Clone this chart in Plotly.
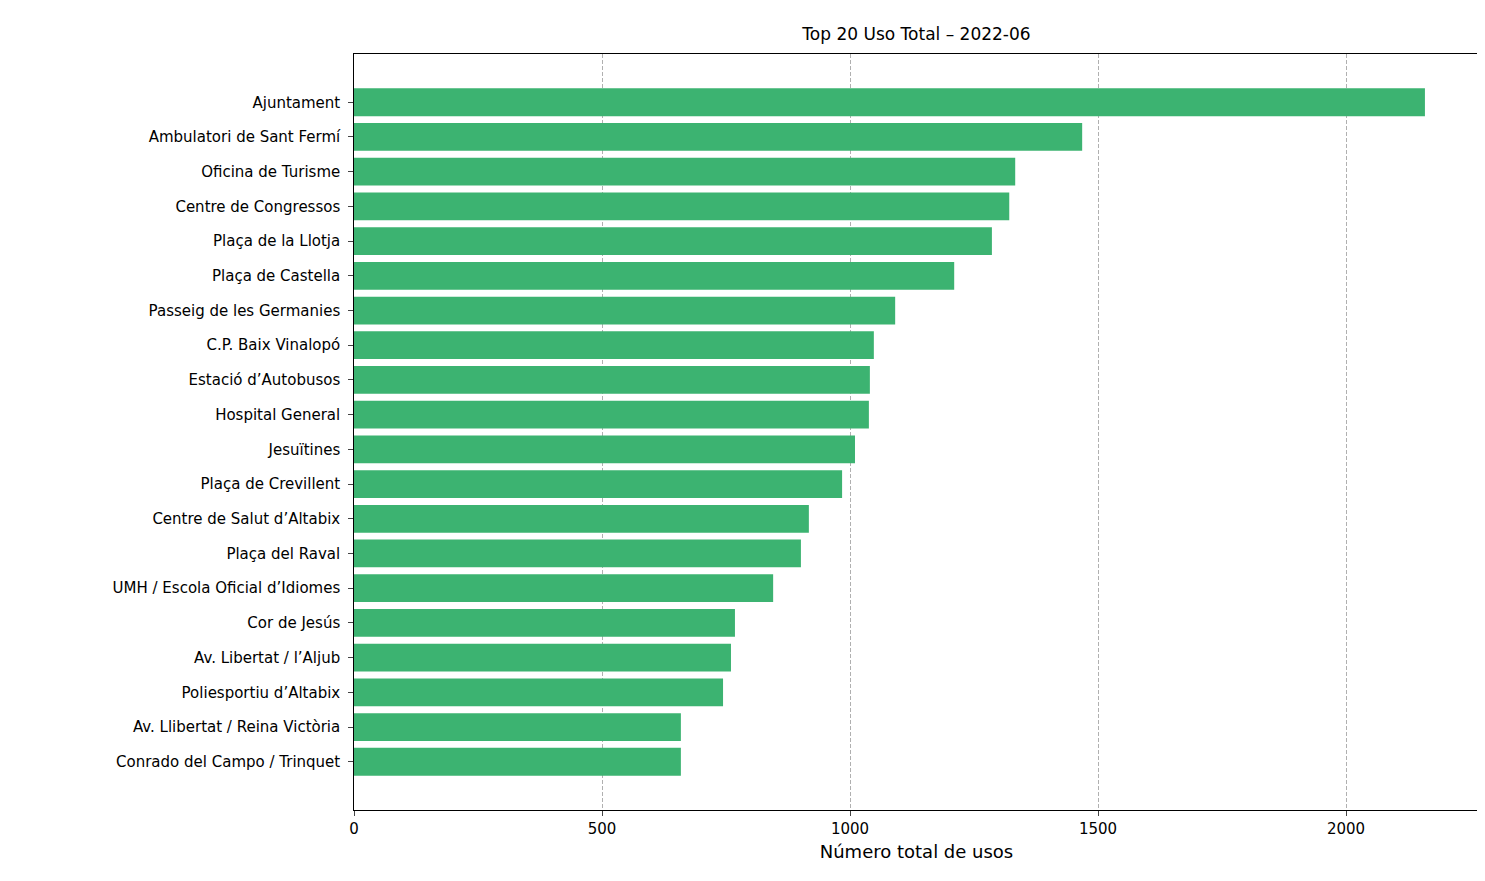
import plotly.graph_objects as go

stations = ["Ajuntament", "Ambulatori de Sant Fermí", "Oficina de Turisme",
            "Centre de Congressos", "Plaça de la Llotja", "Plaça de Castella",
            "Passeig de les Germanies", "C.P. Baix Vinalopó", "Estació d’Autobusos",
            "Hospital General", "Jesuïtines", "Plaça de Crevillent",
            "Centre de Salut d’Altabix", "Plaça del Raval",
            "UMH / Escola Oficial d’Idiomes", "Cor de Jesús",
            "Av. Libertat / l’Aljub", "Poliesportiu d’Altabix",
            "Av. Llibertat / Reina Victòria", "Conrado del Campo / Trinquet"]
usos = [2159, 1468, 1333, 1321, 1286, 1210, 1091, 1048, 1040, 1038,
        1010, 984, 917, 901, 845, 768, 760, 744, 659, 659]

fig = go.Figure(go.Bar(x=usos, y=stations, orientation="h",
                       marker=dict(color="#3CB371", line=dict(width=0))))

fig.update_layout(
    width=1485, height=881,
    margin=dict(l=346, r=14, t=46, b=79),
    plot_bgcolor="white", paper_bgcolor="white",
    font=dict(family="DejaVu Sans", size=15, color="black"),
    bargap=0.2, showlegend=False,
    title=dict(text="Top 20 Uso Total – 2022-06", x=0.5, xref="paper",
               y=1 - 26 / 881, yanchor="middle", font=dict(size=17)),
    xaxis=dict(range=[0, 2268], tickvals=[0, 500, 1000, 1500, 2000],
               showgrid=True, gridcolor="#b0b0b0", griddash="4px,2px", gridwidth=0.7,
               showline=True, linecolor="black", mirror=True,
               ticks="outside", ticklen=5, zeroline=False,
               title=dict(text="Número total de usos", standoff=8)),
    yaxis=dict(categoryorder="array", categoryarray=stations,
               range=[20.39, -1.39], autorange=False, showgrid=False,
               showline=True, linecolor="black", mirror=True,
               ticks="outside", ticklen=5, ticksuffix=" "),
)

fig.write_html("out.html")
